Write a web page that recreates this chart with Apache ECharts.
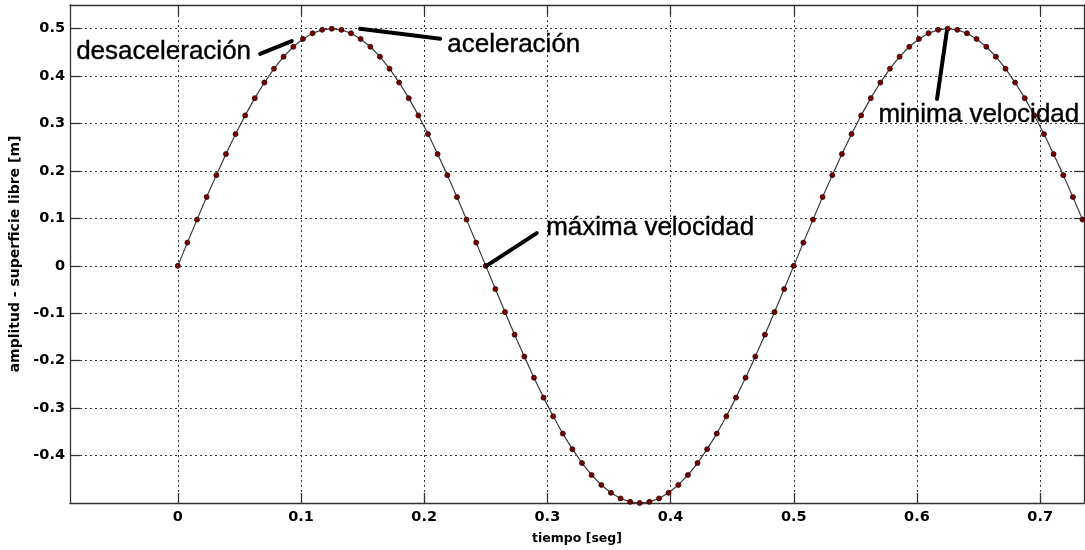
<!DOCTYPE html>
<html><head><meta charset="utf-8">
<script src="https://cdn.jsdelivr.net/npm/echarts@6/dist/echarts.min.js"></script>
<style>html,body{margin:0;padding:0;background:#fff}#c{width:1085px;height:550px}</style>
</head><body><div id="c"></div>
<script>
// tiempo [seg]
const tiempo = [0,0.0078,0.0156,0.0234,0.0313,0.0391,0.0469,0.0547,0.0625,0.0703,0.0781,0.0859,0.0938,0.1016,0.1094,0.1172,0.125,
0.1328,0.1406,0.1484,0.1563,0.1641,0.1719,0.1797,0.1875,0.1953,0.2031,0.2109,0.2188,0.2266,0.2344,0.2422,0.25,
0.2578,0.2656,0.2734,0.2813,0.2891,0.2969,0.3047,0.3125,0.3203,0.3281,0.3359,0.3438,0.3516,0.3594,0.3672,0.375,
0.3828,0.3906,0.3984,0.4063,0.4141,0.4219,0.4297,0.4375,0.4453,0.4531,0.4609,0.4688,0.4766,0.4844,0.4922,0.5,
0.5078,0.5156,0.5234,0.5313,0.5391,0.5469,0.5547,0.5625,0.5703,0.5781,0.5859,0.5938,0.6016,0.6094,0.6172,0.625,
0.6328,0.6406,0.6484,0.6563,0.6641,0.6719,0.6797,0.6875,0.6953,0.7031,0.7109,0.7188,0.7266,0.7344];
// amplitud - superficie libre [m]
const amplitud = [0,0.049,0.0975,0.1451,0.1913,0.2357,0.2778,0.3172,0.3536,0.3865,0.4157,0.441,0.4619,0.4785,0.4904,0.4976,0.5,
0.4976,0.4904,0.4785,0.4619,0.441,0.4157,0.3865,0.3536,0.3172,0.2778,0.2357,0.1913,0.1451,0.0975,0.049,0,
-0.049,-0.0975,-0.1451,-0.1913,-0.2357,-0.2778,-0.3172,-0.3536,-0.3865,-0.4157,-0.441,-0.4619,-0.4785,-0.4904,-0.4976,-0.5,
-0.4976,-0.4904,-0.4785,-0.4619,-0.441,-0.4157,-0.3865,-0.3536,-0.3172,-0.2778,-0.2357,-0.1913,-0.1451,-0.0975,-0.049,0,
0.049,0.0975,0.1451,0.1913,0.2357,0.2778,0.3172,0.3536,0.3865,0.4157,0.441,0.4619,0.4785,0.4904,0.4976,0.5,
0.4976,0.4904,0.4785,0.4619,0.441,0.4157,0.3865,0.3536,0.3172,0.2778,0.2357,0.1913,0.1451,0.0975];
const xTicks = [0,0.1,0.2,0.3,0.4,0.5,0.6,0.7];
const yTicks = [-0.4,-0.3,-0.2,-0.1,0,0.1,0.2,0.3,0.4,0.5];
const xRange = [-0.0875, 0.7356];
const yRange = [-0.5, 0.55];
const notaTextos = ['desaceleración','aceleración','máxima velocidad','minima velocidad'];
const notaTextoPos = [[-0.0825,0.451],[0.2188,0.466],[0.299,0.0811],[0.5687,0.3178]];
const notaLineas = [
  [[0.0668,0.447],[0.0925,0.474]],
  [[0.1479,0.5],[0.2130,0.4788]],
  [[0.2508,0.0006],[0.2914,0.069]],
  [[0.6242,0.4936],[0.6163,0.3517]]
];

const chart = echarts.init(document.getElementById('c'), null, {renderer:'canvas'});
const tickFont = {fontFamily:'DejaVu Sans', fontWeight:'bold', fontSize:14.5, color:'#000'};
const axLine = {show:true, onZero:false, lineStyle:{color:'#333', width:1.3}};
const grid = {show:true, lineStyle:{color:'#333', width:1, type:[2,3]}};
chart.setOption({
  animation:false,
  backgroundColor:'#fff',
  grid:{left:70, right:1, top:5, bottom:47},
  xAxis:[{
    type:'value', position:'bottom', min:xRange[0], max:xRange[1],
    axisLine:axLine,
    axisTick:{show:true, inside:true, length:10, customValues:xTicks, lineStyle:{color:'#333', width:1.3}},
    axisLabel:Object.assign({customValues:xTicks, margin:7}, tickFont),
    splitLine:grid,
    name:'tiempo [seg]', nameLocation:'middle', nameGap:29,
    nameTextStyle:{fontFamily:'DejaVu Sans', fontWeight:'bold', fontSize:12.5, color:'#000'}
  },{
    type:'value', position:'top', min:xRange[0], max:xRange[1],
    axisLine:axLine,
    axisTick:{show:true, inside:true, length:10, customValues:xTicks, lineStyle:{color:'#333', width:1.3}},
    axisLabel:{show:false}, splitLine:{show:false}
  }],
  yAxis:[{
    type:'value', position:'left', min:yRange[0], max:yRange[1],
    axisLine:axLine,
    axisTick:{show:true, inside:true, length:10, customValues:yTicks, lineStyle:{color:'#333', width:1.3}},
    axisLabel:Object.assign({customValues:yTicks, margin:5}, tickFont),
    splitLine:grid,
    name:'amplitud - superficie libre [m]', nameLocation:'middle', nameGap:36,
    nameTextStyle:{fontFamily:'DejaVu Sans', fontWeight:'bold', fontSize:14, color:'#000'}
  },{
    type:'value', position:'right', min:yRange[0], max:yRange[1],
    axisLine:axLine,
    axisTick:{show:true, inside:true, length:10, customValues:yTicks, lineStyle:{color:'#333', width:1.3}},
    axisLabel:{show:false}, splitLine:{show:false}
  }],
  series:[{
    type:'line',
    data:tiempo.map((t,i)=>[t, amplitud[i]]),
    showAllSymbol:true,
    symbol:'circle', symbolSize:5,
    lineStyle:{color:'#3a3a3a', width:1.2},
    itemStyle:{color:'#7a0000', borderColor:'#2a0000', borderWidth:0.8},
    silent:true, z:3
  },{
    type:'scatter',
    symbolSize:0,
    silent:true, z:5,
    data:notaTextos.map((t,i)=>({name:t, value:notaTextoPos[i]})),
    label:{show:true, position:'right', distance:0, formatter:p=>p.name, opacity:1,
      fontFamily:'Liberation Sans', fontSize:26, color:'#000',
      textBorderColor:'#000', textBorderWidth:0.4},
    markLine:{
      silent:true, symbol:['none','none'],
      label:{show:false},
      lineStyle:{color:'#000', width:4, type:'solid', cap:'round', opacity:1},
      emphasis:{disabled:true},
      data:notaLineas.map(l=>[{coord:l[0]},{coord:l[1]}])
    }
  }]
});
</script>
</body></html>
